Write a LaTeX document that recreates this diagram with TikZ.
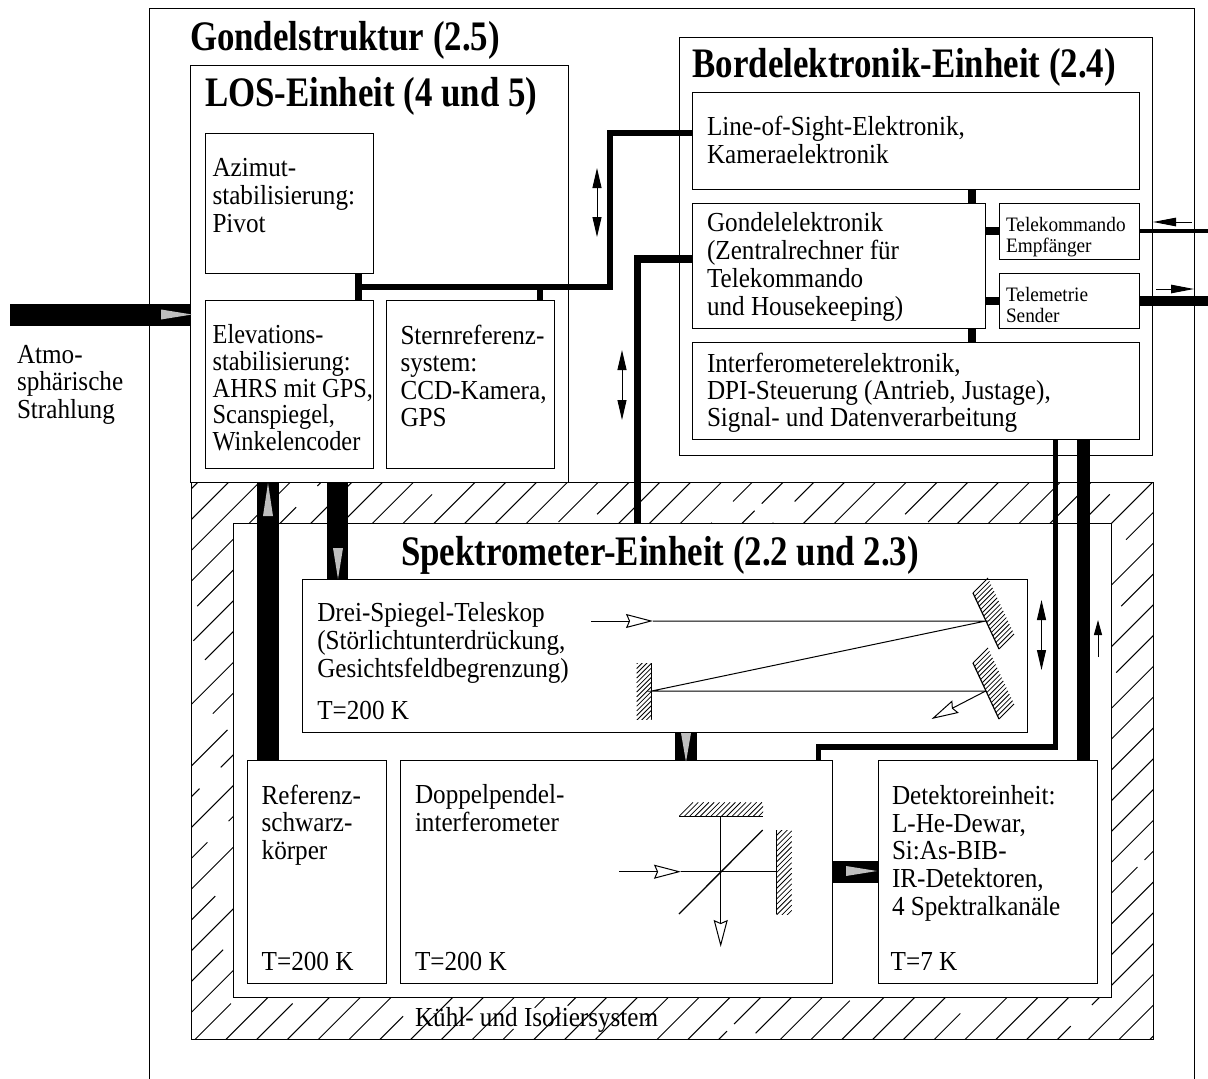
\documentclass[tikz,border=0pt]{standalone}
\usepackage{fontspec}
\setmainfont[FakeStretch=0.915]{Liberation Serif}
\newfontfamily\titlef[FakeStretch=0.83]{Liberation Serif}
\newfontfamily\smallf[FakeStretch=0.94]{Liberation Serif}
\newfontfamily\elevf[FakeStretch=0.885]{Liberation Serif}
\usetikzlibrary{arrows.meta,calc}
\tikzset{
  x=1pt,y=-1pt,
  thin line/.style={line width=1pt,black},
  boxn/.style={draw=black,line width=1pt,fill=white,inner sep=0,outer sep=0,anchor=north west},
  txt/.style={inner sep=0,outer sep=0,anchor=north west,align=left,font=\fontsize{27.5}{#1}\selectfont,execute at begin node={\rule{0pt}{18pt}}},
  txt/.default=27.6,
  elevtxt/.style={inner sep=0,outer sep=0,anchor=north west,align=left,font=\elevf\fontsize{27.5}{26.7}\selectfont,execute at begin node={\rule{0pt}{18pt}}},
  small/.style={inner sep=0,outer sep=0,anchor=north west,align=left,font=\smallf\fontsize{20.5}{21.2}\selectfont,execute at begin node={\rule{0pt}{14pt}}},
  title/.style={inner sep=0,outer sep=0,anchor=base west,font=\titlef\fontsize{42}{46}\selectfont\bfseries},
  bar/.style={line width=#1,line cap=butt,line join=miter,black},
  greyhead/.style={fill=black!25,draw=none},
  openarrow/.style={line width=1pt,-{Stealth[open,fill=white,length=27pt,width=14pt,inset=3pt]}},
  dblarrow/.style={line width=1pt,{Stealth[length=20pt,width=9pt,inset=0pt]}-{Stealth[length=20pt,width=9pt,inset=0pt]}},
  fillarrow/.style={line width=1pt,-{Stealth[length=23pt,width=8.5pt,inset=0pt]}},
  hatchline/.style={line width=1pt},
  finehatch/.style={line width=.8pt},
}
\newcommand{\bx}[5]{\node[boxn,minimum width={(#4-#2)*1pt},minimum height={(#5-#3)*1pt}] (#1) at (#2,#3) {};}
\newcommand{\mirror}[7]{% start, end, n, dx, dy
  \draw[line width=1.2pt] (#1,#2) -- (#3,#4);
  \foreach \t in {0,...,#5} {\draw[finehatch] ($(#1,#2)!{\t/#5}!(#3,#4)$) -- ++(#6,#7);}
}
\begin{document}
\begin{tikzpicture}
\useasboundingbox (0,0) rectangle (1208,1079);
\draw[thin line] (149.3,1079) -- (149.3,8.5) -- (1194.3,8.5) -- (1194.3,1079);
% hatched insulation
\begin{scope}
\clip (191,482) rectangle (1153,1039.3);
\foreach \k in {-20,...,31} {
  \pgfmathsetmacro{\s}{226+30.8*\k}
  \pgfmathtruncatemacro{\odd}{mod(abs(\k),2)}
  \ifnum\odd=1
    \pgfmathsetmacro{\ph}{mod(abs(\k)*47,170)}
    \draw[hatchline,dash pattern=on 140pt off 30pt,dash phase=\ph pt] (\s-30,1069.3) -- (\s+620,419.3);
  \else
    \pgfmathsetmacro{\ph}{mod(abs(\k)*71,400)}
    \draw[hatchline,dash pattern=on 390pt off 10pt,dash phase=\ph pt] (\s-30,1069.3) -- (\s+620,419.3);
  \fi
}
\end{scope}
\draw[thin line] (191,482) rectangle (1153,1039.3);
\bx{los}{190.5}{65}{568}{482}
\bx{bord}{679}{37}{1152.7}{455}
\bx{spek}{233}{523}{1111}{997.5}
\bx{azi}{205}{133}{373}{273}
\bx{elev}{205}{300.5}{373}{468}
\bx{stern}{386}{300.5}{554}{468}
\bx{lose}{692.5}{92}{1139}{189}
\bx{gond}{692.5}{203}{985.5}{328}
\bx{tk}{999}{203}{1139}{259.5}
\bx{tm}{999}{273.5}{1139}{328}
\bx{ife}{692.5}{342}{1139}{439.5}
\bx{tele}{302.5}{579.3}{1027.5}{732.7}
\bx{ref}{247.3}{760.7}{386.7}{983.3}
\bx{dpi}{400.5}{760.7}{832.5}{983.3}
\bx{det}{878}{760.7}{1097.3}{983.3}
% named coordinates for the connector routes
\coordinate (atm) at (10,315);
\coordinate (x358) at (358.5,287);
\coordinate (x539) at (539.8,287);
\coordinate (r1) at (610,287);
\coordinate (r2) at (610,133);
\coordinate (g1) at (637.5,259);
\coordinate (ee) at (971.7,0);
\coordinate (tkout) at (1208,231);
\coordinate (tmout) at (1208,301);
\coordinate (v1) at (1055.6,747);
\coordinate (v2) at (818.5,747);
\coordinate (v3) at (1083.5,0);
\coordinate (up) at (268,0);
\coordinate (dn) at (337.5,0);
\coordinate (td) at (686,0);
\coordinate (dd) at (0,872);
% thick connectors
\draw[bar=22pt] (atm) -- (atm -| los.west);
\draw[bar=22pt] (up |- los.south) -- (up |- ref.north);
\draw[bar=21pt] (dn |- los.south) -- (dn |- tele.north);
\draw[bar=7pt] (x358 |- azi.south) -- (x358 |- elev.north);
\draw[bar=6.5pt] (x358) -- (r1) -- (r2) -- (r2 -| lose.west);
\draw[bar=6.5pt] (x539) -- (x539 |- stern.north);
\draw[bar=7.5pt] (g1 |- spek.north) -- (g1) -- (g1 -| gond.west);
\draw[bar=8pt] (ee |- lose.south) -- (ee |- gond.north);
\draw[bar=8pt] (ee |- gond.south) -- (ee |- ife.north);
\draw[bar=7.5pt] (tkout -| gond.east) -- (tkout -| tk.west);
\draw[bar=7.5pt] (tmout -| gond.east) -- (tmout -| tm.west);
\draw[bar=4pt] (tkout -| tk.east) -- (tkout);
\draw[bar=9.3pt] (tmout -| tm.east) -- (tmout);
\draw[bar=5.6pt] (v1 |- ife.south) -- (v1) -- (v2) -- (v2 |- dpi.north);
\draw[bar=13pt] (v3 |- ife.south) -- (v3 |- det.north);
\draw[bar=22pt] (td |- tele.south) -- (td |- dpi.north);
\draw[bar=22pt] (dd -| dpi.east) -- (dd -| det.west);
% grey arrowheads
\fill[greyhead] (192,314.5) -- (161,309.5) -- (161,319.5) -- cycle;
\fill[greyhead] (268,483) -- (263,516) -- (273,516) -- cycle;
\fill[greyhead] (338,579) -- (333,548) -- (343,548) -- cycle;
\fill[greyhead] (686,762) -- (681,733) -- (691,733) -- cycle;
\fill[greyhead] (877,871) -- (846,866) -- (846,876) -- cycle;
% movement arrows
\coordinate (a1) at (597,168); \coordinate (a2) at (597,237);
\coordinate (b1) at (622,350); \coordinate (b2) at (622,420);
\coordinate (c1) at (1041.5,600); \coordinate (c2) at (1041.5,670);
\coordinate (d1) at (1098,657); \coordinate (d2) at (1098,620);
\coordinate (e1) at (1191.5,222); \coordinate (e2) at (1153,222);
\coordinate (f1) at (1156,289); \coordinate (f2) at (1194,289);
\draw[dblarrow] (a1) -- (a2);
\draw[dblarrow] (b1) -- (b2);
\draw[dblarrow] (c1) -- (c2);
\draw[line width=1pt,-{Stealth[length=15pt,width=8pt,inset=0pt]}] (d1) -- (d2);
\draw[fillarrow] (e1) -- (e2);
\draw[fillarrow] (f1) -- (f2);
% telescope optics
\mirror{973}{593}{999}{649}{17}{15}{-15}
\mirror{973}{663}{999}{719}{17}{15}{-15}
\begin{scope}
\clip (636,663) rectangle (653,719);
\foreach \t in {-3,...,14} {\draw[finehatch] (651.7,663+4.7*\t) -- ++(-15,15);}
\end{scope}
\draw[line width=1.2pt] (651.7,663) -- (651.7,719);
\coordinate (i1) at (591,621); \coordinate (i2) at (653,621); \coordinate (m1) at (985.7,621);
\coordinate (m2) at (651.7,691); \coordinate (m3) at (985.7,691); \coordinate (o) at (931.5,719);
\draw[line width=1pt] (i2) -- (m1) -- (m2) -- (m3);
\draw[openarrow] (i1) -- (i2);
\draw[openarrow] (m3) -- (o);
% interferometer optics
\begin{scope}
\clip (679,802) rectangle (763,816.5);
\foreach \t in {0,...,19} {\draw[finehatch] (679+5.3*\t,816.3) -- ++(14,-14);}
\end{scope}
\draw[line width=1.2pt] (679,816.3) -- (763,816.3);
\begin{scope}
\clip (776.2,830) rectangle (792,914);
\foreach \t in {0,...,19} {\draw[finehatch] (776.7,830+5.3*\t) -- ++(15,-15);}
\end{scope}
\draw[line width=1.2pt] (776.7,830) -- (776.7,914);
\coordinate (j1) at (619,871.7); \coordinate (j2) at (681,871.7); \coordinate (bs) at (720.7,871.7);
\coordinate (j3) at (776.7,871.7); \coordinate (top) at (720.7,816); \coordinate (j4) at (720.7,947);
\draw[line width=1pt] (j2) -- (j3) (top) -- (bs);
\draw[openarrow] (j1) -- (j2);
\draw[openarrow] (bs) -- (j4);
\draw[line width=1.3pt] (679,914) -- (762.7,830);
% texts
\node[title] (t1) at (190,50) {Gondelstruktur (2.5)};
\node[title] (t2) at (205,106) {LOS-Einheit (4 und 5)};
\node[title] (t3) at (692.5,77.7) {Bordelektronik-Einheit (2.4)};
\node[title] (t4) at (401,565) {Spektrometer-Einheit (2.2 und 2.3)};
\node[txt] (l1) at (17,345) {Atmo-\\sphärische\\Strahlung};
\node[txt] (l2) at (212.5,158.7) {Azimut-\\stabilisierung:\\Pivot};
\node[elevtxt] (l3) at (212.7,324.7) {Elevations-\\stabilisierung:\\AHRS mit GPS,\\Scanspiegel,\\Winkelencoder};
\node[txt=27.5] (l4) at (400.5,324.7) {Sternreferenz-\\system:\\CCD-Kamera,\\GPS};
\node[txt=27.5] (l5) at (707,116.3) {Line-of-Sight-Elektronik,\\Kameraelektronik};
\node[txt=27.8] (l6) at (707,212.7) {Gondelelektronik\\(Zentralrechner für\\Telekommando\\und Housekeeping)};
\node[txt=27.3] (l7) at (707,353) {Interferometerelektronik,\\DPI-Steuerung (Antrieb, Justage),\\Signal- und Datenverarbeitung};
\node[small] (l8) at (1006,217) {Telekommando\\Empfänger};
\node[small] (l9) at (1006,287) {Telemetrie\\Sender};
\node[txt=28] (l10) at (317.3,602.7) {Drei-Spiegel-Teleskop\\(Störlichtunterdrückung,\\Gesichtsfeldbegrenzung)};
\node[txt] (l11) at (317.3,701.3) {T=200 K};
\node[txt] (l12) at (261.7,784.7) {Referenz-\\schwarz-\\körper};
\node[txt] (l13) at (261.7,952) {T=200 K};
\node[txt] (l14) at (415,784.7) {Doppelpendel-\\interferometer};
\node[txt] (l15) at (415,952) {T=200 K};
\node[txt=27.7] (l16) at (892,785.3) {Detektoreinheit:\\L-He-Dewar,\\Si:As-BIB-\\IR-Detektoren,\\4 Spektralkanäle};
\node[txt] (l17) at (890.7,952) {T=7 K};
\node[txt] (l18) at (415,1007) {Kühl- und Isoliersystem};
\end{tikzpicture}
\end{document}
